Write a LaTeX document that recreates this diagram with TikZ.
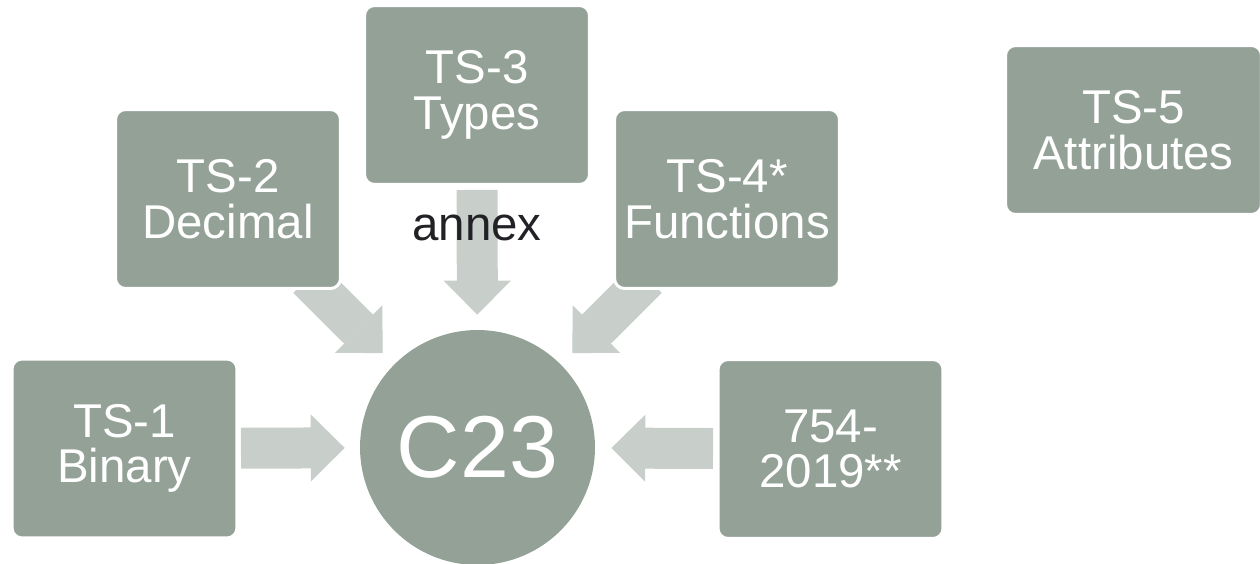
\documentclass[tikz,border=0pt]{standalone}
\usepackage{fontspec}
\setmainfont{Liberation Sans}
\usetikzlibrary{arrows.meta}
\usetikzlibrary{backgrounds}
\definecolor{boxgreen}{RGB}{147,161,151}
\definecolor{arrowgrey}{RGB}{200,206,202}
\definecolor{annexgrey}{RGB}{33,33,38}
\tikzset{ts/.style = {fill=boxgreen, draw=white, line width=0.06cm, rounded corners=0.2cm,
                      minimum width=4.5cm, minimum height=3.58cm, inner sep=0,
                      align=center, text=white, font=\fontsize{27}{26}\selectfont}}
\tikzset{fat/.style = {draw=arrowgrey, line width=0.82cm,
                       -{Triangle[length=0.68cm, width=1.34cm, line width=0.6pt]}}}
\begin{document}
\begin{tikzpicture}[x=0.02cm, y=-0.02cm]
      \useasboundingbox (0, 0) rectangle (1260, 564);
      \node [ts] (ts1) at (124.5, 448.5) {TS-1\\Binary};
      \node [ts] (ts2) at (228, 199) {TS-2\\Decimal};
      \node [ts] (ts3) at (477, 95) {TS-3\\Types};
      \node [ts] (ts4) at (727, 199) {TS-4*\\Functions};
      \node [ts] (ieee) at (830.5, 449) {754-\\2019**};
      \node [ts, minimum width=5.12cm, minimum height=3.38cm] (ts5) at (1133.5, 130) {TS-5\\Attributes};
      \node [circle, fill=boxgreen, inner sep=0, minimum size=4.7cm, text=white,
             font=\fontsize{50}{50}\selectfont] (c23) at (477.5, 447.5) {C23};
      \node [text=annexgrey, font=\fontsize{27}{26}\selectfont] (annex) at (477, 228) {annex};
      \begin{pgfonlayer}{background}
        \draw [fat, shorten <=0.05cm, shorten >=0.3cm] (ts1) -- (c23);
        \draw [fat, shorten <=0.07cm, shorten >=0.32cm] (ieee) -- (c23);
        \draw [fat, shorten <=0.08cm, shorten >=0.3cm] (ts3) -- (c23);
        \draw [fat, shorten <=-0.33cm, shorten >=0.32cm] (ts2) -- (c23);
        \draw [fat, shorten <=-0.33cm, shorten >=0.32cm] (ts4) -- (c23);
      \end{pgfonlayer}
    \end{tikzpicture}
\end{document}
